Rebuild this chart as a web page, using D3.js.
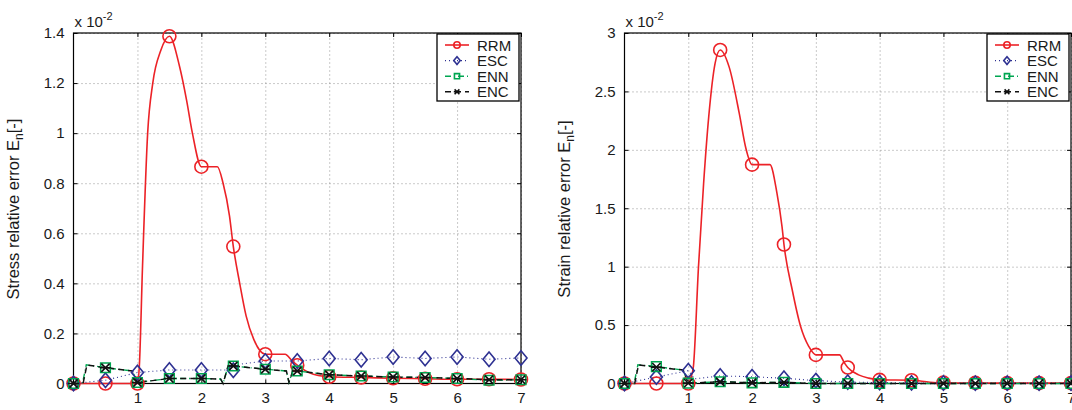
<!DOCTYPE html>
<html>
<head>
<meta charset="utf-8">
<script src="https://d3js.org/d3.v7.min.js"></script>
<style>
    html, body { margin: 0; padding: 0; background: #fff; overflow: hidden; }
    svg { font-family: "Liberation Sans", Arial, Helvetica, sans-serif; }
    .grid line { stroke: #7a7a7a; stroke-dasharray: 1,3; stroke-width: 0.8; }
    .grid path { display: none; }
    .axis path { display: none; }
    .axis line { stroke: #000; }
    .axis text { font-size: 15px; fill: #1a1a1a; }
</style>
</head>
<body>
<svg id="chart" width="1072" height="410"></svg>
<script>
// marker positions (time steps)
var steps = [0, 0.5, 1, 1.5, 2, 2.5, 3, 3.5, 4, 4.5, 5, 5.5, 6, 6.5, 7];
var xTicks = [1, 2, 3, 4, 5, 6, 7];
var seriesNames = ["RRM", "ESC", "ENN", "ENC"];

// stress panel, values x 10^-2
var stressTicks = [0, 0.2, 0.4, 0.6, 0.8, 1, 1.2, 1.4];
var stressRRM = [0, 0, 0, 1.387, 0.866, 0.547, 0.117, 0.073, 0.027, 0.024, 0.021, 0.019, 0.017, 0.017, 0.016];
var stressESC = [0, 0.013, 0.044, 0.054, 0.054, 0.053, 0.09, 0.09, 0.10, 0.095, 0.106, 0.10, 0.106, 0.097, 0.102];
var stressENN = [0, 0.063, 0.004, 0.02, 0.02, 0.07, 0.057, 0.05, 0.035, 0.03, 0.026, 0.024, 0.02, 0.013, 0.015];
var stressENC = [0, 0.063, 0.004, 0.02, 0.02, 0.07, 0.057, 0.05, 0.035, 0.03, 0.026, 0.024, 0.02, 0.015, 0.015];
// the lines are drawn from finer traces
var stressRRMTrace = [[0,0],[1,0],[1.03,0.07],[1.08,0.47],[1.16,1.0],[1.24,1.2],[1.365,1.33],[1.5,1.387],
    [1.66,1.265],[1.77,1.13],[1.86,1.0],[2,0.866],[2.25,0.866],[2.34,0.8],[2.44,0.67],[2.5,0.547],[2.6,0.40],
    [2.7,0.27],[2.82,0.176],[3,0.117],[3.31,0.117],[3.42,0.09],[3.5,0.073],[3.68,0.044],[4,0.027],[4.5,0.024],
    [5,0.021],[5.5,0.019],[6,0.017],[6.5,0.017],[7,0.016]];
var stressESCTrace = [[0,0],[0.5,0.013],[1,0.044],[1.5,0.054],[2,0.054],[2.3,0.054],[2.5,0.053],[2.6,0.077],
    [3,0.09],[3.5,0.09],[4,0.10],[4.5,0.095],[5,0.106],[5.5,0.10],[6,0.106],[6.5,0.097],[7,0.102]];
var stressENNTrace = [[0,0],[0.14,0],[0.2,0.075],[0.5,0.063],[0.92,0.05],[1,0.004],[1.5,0.02],[2,0.02],
    [2.3,0.018],[2.34,0],[2.42,0.072],[2.5,0.07],[3,0.057],[3.33,0.05],[3.37,0.005],[3.43,0.05],[3.5,0.05],
    [4,0.035],[4.5,0.03],[5,0.026],[5.5,0.024],[6,0.02],[6.5,0.013],[7,0.015]];
var stressENCTrace = [[0,0],[0.15,0],[0.21,0.074],[0.5,0.063],[0.92,0.05],[1,0.004],[1.5,0.02],[2,0.02],
    [2.3,0.018],[2.34,0],[2.42,0.072],[2.5,0.07],[3,0.057],[3.33,0.05],[3.37,0.005],[3.43,0.05],[3.5,0.05],
    [4,0.035],[4.5,0.03],[5,0.026],[5.5,0.024],[6,0.02],[6.5,0.015],[7,0.015]];

// strain panel, values x 10^-2
var strainTicks = [0, 0.5, 1, 1.5, 2, 2.5, 3];
var strainRRM = [0, 0, 0, 2.855, 1.873, 1.19, 0.245, 0.137, 0.031, 0.028, 0.008, 0.005, 0.003, 0.003, 0.003];
var strainESC = [0, 0.055, 0.11, 0.065, 0.058, 0.045, 0.025, 0.012, 0.008, 0.005, 0.004, 0.003, 0.003, 0.003, 0.003];
var strainENN = [0, 0.145, 0.003, 0.015, 0.006, 0.01, 0, 0, 0, 0, 0, 0, 0, 0, 0];
var strainENC = [0, 0.14, 0.003, 0.015, 0.006, 0.01, 0, 0, 0, 0, 0, 0, 0, 0, 0];
var strainRRMTrace = [[0,0],[1,0],[1.04,0.05],[1.08,0.145],[1.16,1.0],[1.24,1.71],[1.32,2.28],[1.42,2.74],
    [1.5,2.855],[1.64,2.71],[1.8,2.31],[1.9,2.02],[2,1.873],[2.28,1.873],[2.39,1.63],[2.47,1.34],[2.5,1.19],
    [2.63,0.8],[2.76,0.49],[2.89,0.316],[3,0.245],[3.37,0.245],[3.45,0.174],[3.5,0.137],[3.67,0.074],
    [3.83,0.046],[4,0.031],[4.5,0.028],[4.79,0.011],[5,0.006],[5.5,0.004],[6,0.003],[7,0.003]];
var strainESCTrace = [[0,0],[0.5,0.055],[1,0.11],[1.1,0.04],[1.5,0.065],[2,0.058],[2.5,0.045],[3,0.025],
    [3.5,0.012],[4,0.008],[4.5,0.005],[5,0.004],[7,0.003]];
var strainENNTrace = [[0,0],[0.15,0],[0.21,0.16],[0.5,0.145],[0.92,0.115],[1,0.003],[1.5,0.015],[2,0.006],
    [2.5,0.01],[3,0],[7,0]];
var strainENCTrace = [[0,0],[0.16,0],[0.22,0.16],[0.5,0.14],[0.92,0.115],[1,0.003],[1.5,0.015],[2,0.006],
    [2.5,0.01],[3,0],[7,0]];

var colors = { RRM: "#ec2227", ESC: "#2e3192", ENN: "#00a651", ENC: "#111111" };
var dashes = { RRM: null, ESC: "1,3", ENN: "6,3,1,3", ENC: "6,4" };
var widths = { RRM: 1.6, ESC: 1.1, ENN: 1.4, ENC: 1.5 };

var svg = d3.select("#chart");

function markerPath(name, s) {
    if (name === "ESC") return "M0," + (-s * 1.2) + "L" + s + ",0L0," + (s * 1.2) + "L" + (-s) + ",0Z";
    if (name === "ENN") return "M" + (-s * 0.8) + "," + (-s * 0.8) + "h" + (s * 1.6) + "v" + (s * 1.6) + "h" + (-s * 1.6) + "Z";
    if (name === "ENC") {
        var d = s * 0.75;
        return "M" + (-d) + "," + (-d) + "L" + d + "," + d + "M" + (-d) + "," + d + "L" + d + "," + (-d) +
               "M" + (-s) + ",0L" + s + ",0";
    }
    return d3.symbol().type(d3.symbolCircle).size(Math.PI * s * s)();
}

function drawPanel(p) {
    var x = d3.scaleLinear().domain([0, 7]).range([p.left, p.right]);
    var y = d3.scaleLinear().domain([0, p.yMax]).range([383.5, 33]);
    var g = svg.append("g");

    // dotted grid
    g.append("g").attr("class", "grid")
        .attr("transform", "translate(0,383.5)")
        .call(d3.axisBottom(x).tickValues(xTicks).tickSize(-350.5).tickFormat(""));
    g.append("g").attr("class", "grid")
        .attr("transform", "translate(" + p.left + ",0)")
        .call(d3.axisLeft(y).tickValues(p.yTicks.slice(1)).tickSize(-(p.right - p.left)).tickFormat(""));

    // axes with inward ticks
    g.append("g").attr("class", "axis")
        .attr("transform", "translate(0,383.5)")
        .call(d3.axisBottom(x).tickValues(xTicks).tickSizeInner(-4).tickSizeOuter(0).tickPadding(9)
            .tickFormat(d3.format("d")));
    g.append("g").attr("class", "axis")
        .attr("transform", "translate(0,33)")
        .call(d3.axisTop(x).tickValues(xTicks).tickSizeInner(-4).tickSizeOuter(0).tickFormat(""));
    g.append("g").attr("class", "axis")
        .attr("transform", "translate(" + p.left + ",0)")
        .call(d3.axisLeft(y).tickValues(p.yTicks).tickSizeInner(-4).tickSizeOuter(0).tickPadding(9)
            .tickFormat(function(d) { return String(+d.toFixed(1)); }));
    g.append("g").attr("class", "axis")
        .attr("transform", "translate(" + p.right + ",0)")
        .call(d3.axisRight(y).tickValues(p.yTicks).tickSizeInner(-4).tickSizeOuter(0).tickFormat(""));

    g.append("rect")
        .attr("x", p.left).attr("y", 33)
        .attr("width", p.right - p.left).attr("height", 350.5)
        .attr("fill", "none").attr("stroke", "#000").attr("stroke-width", 1.2);

    // lines
    var line = d3.line()
        .x(function(d) { return x(d[0]); })
        .y(function(d) { return y(d[1]); });
    seriesNames.forEach(function(name) {
        g.append("path")
            .attr("d", line.curve(name === "RRM" ? d3.curveMonotoneX : d3.curveLinear)(p.traces[name]))
            .attr("fill", "none")
            .attr("stroke", colors[name])
            .attr("stroke-width", widths[name])
            .attr("stroke-dasharray", dashes[name]);
    });

    // markers
    var sizes = { RRM: 6.5, ESC: 6, ENN: 6, ENC: 5.5 };
    seriesNames.forEach(function(name) {
        g.append("g").selectAll("path")
            .data(p.values[name])
            .enter().append("path")
            .attr("transform", function(d, i) { return "translate(" + x(steps[i]) + "," + y(d) + ")"; })
            .attr("d", markerPath(name, sizes[name]))
            .attr("fill", "none")
            .attr("stroke", colors[name])
            .attr("stroke-width", 1.6);
    });

    // exponent label
    var ex = g.append("text").attr("x", p.left + 1).attr("y", 27).attr("font-size", 15).attr("fill", "#1a1a1a");
    ex.append("tspan").text("x 10");
    ex.append("tspan").attr("dy", -7).attr("font-size", 11).text("-2");

    // y label
    var yl = g.append("text")
        .attr("transform", "translate(" + p.labelX + ",209) rotate(-90)")
        .attr("text-anchor", "middle")
        .attr("font-size", 16.5).attr("fill", "#1a1a1a");
    yl.append("tspan").text(p.label + " relative error E");
    yl.append("tspan").attr("dy", 4).attr("font-size", 12).text("n");
    yl.append("tspan").attr("dy", -4).text("[-]");

    // legend
    var lx = p.right - 84, ly = 34;
    var lg = g.append("g").attr("transform", "translate(" + lx + "," + ly + ")");
    lg.append("rect").attr("width", 82).attr("height", 67)
        .attr("fill", "#fff").attr("stroke", "#000").attr("stroke-width", 1.3);
    seriesNames.forEach(function(name, i) {
        var ry = 11 + i * 15.6;
        lg.append("line").attr("x1", 8).attr("x2", 32).attr("y1", ry).attr("y2", ry)
            .attr("stroke", colors[name]).attr("stroke-width", widths[name])
            .attr("stroke-dasharray", dashes[name]);
        lg.append("path").attr("transform", "translate(20," + ry + ")")
            .attr("d", markerPath(name, 3.2))
            .attr("fill", "none").attr("stroke", colors[name]).attr("stroke-width", 1.6);
        lg.append("text").attr("x", 40).attr("y", ry + 5.5)
            .attr("font-size", 15).attr("fill", "#1a1a1a").text(name);
    });
}

drawPanel({
    left: 73.5, right: 521, yMax: 1.4, yTicks: stressTicks, label: "Stress", labelX: 19,
    values: { RRM: stressRRM, ESC: stressESC, ENN: stressENN, ENC: stressENC },
    traces: { RRM: stressRRMTrace, ESC: stressESCTrace, ENN: stressENNTrace, ENC: stressENCTrace }
});
drawPanel({
    left: 624.5, right: 1071, yMax: 3, yTicks: strainTicks, label: "Strain", labelX: 570,
    values: { RRM: strainRRM, ESC: strainESC, ENN: strainENN, ENC: strainENC },
    traces: { RRM: strainRRMTrace, ESC: strainESCTrace, ENN: strainENNTrace, ENC: strainENCTrace }
});
</script>
</body>
</html>
